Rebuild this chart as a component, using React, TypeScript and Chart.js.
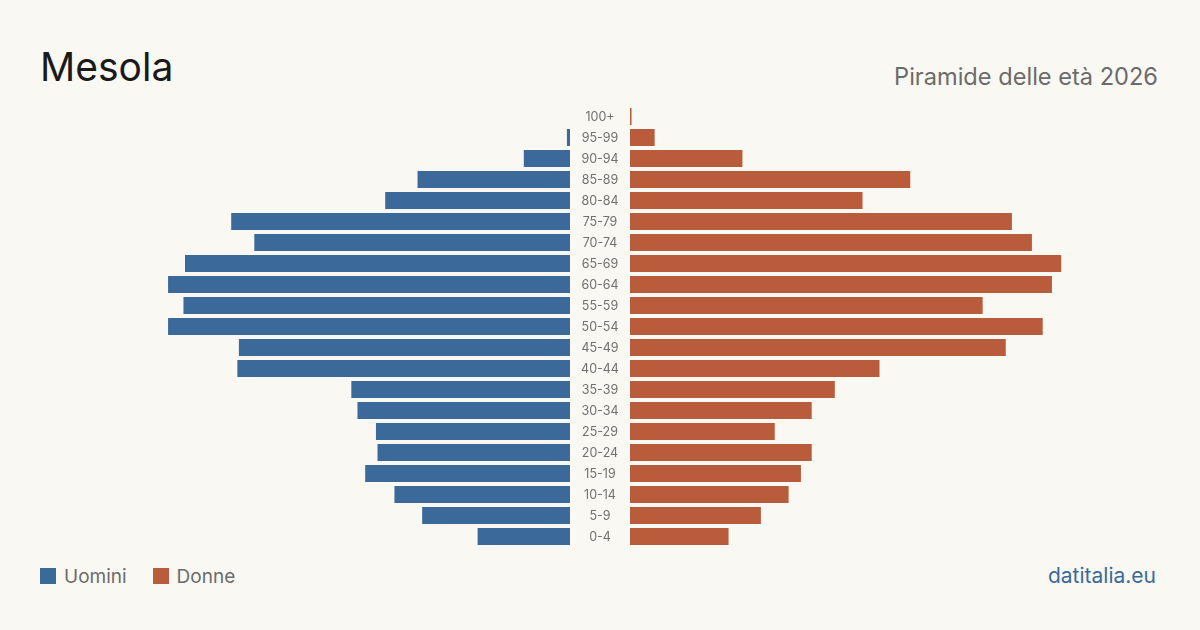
import React, { useEffect, useRef } from "react";
import { Chart, registerables } from "chart.js";

Chart.register(...registerables);

const ageGroups = ["100+", "95-99", "90-94", "85-89", "80-84", "75-79", "70-74", "65-69", "60-64", "55-59", "50-54", "45-49", "40-44", "35-39", "30-34", "25-29", "20-24", "15-19", "10-14", "5-9", "0-4"];
const men = [0, 2, 30, 99, 120, 220, 205, 250, 261, 251, 261, 215, 216, 142, 138, 126, 125, 133, 114, 96, 60];
const women = [1, 16, 73, 182, 151, 248, 261, 280, 274, 229, 268, 244, 162, 133, 118, 94, 118, 111, 103, 85, 64];
const axisMax = 300;

const BLUE = "#3b6a9a";
const ORANGE = "#b95c3b";
const BG = "#faf8f3";
const FONT = "Inter, 'Noto Sans', sans-serif";

const centerLabels = {
  id: "centerLabels",
  afterDraw(chart: any) {
    const { ctx, scales } = chart;
    const y = scales.y;
    ctx.save();
    ctx.fillStyle = "#707070";
    ctx.font = `12.5px ${FONT}`;
    ctx.textAlign = "center";
    ctx.textBaseline = "middle";
    ageGroups.forEach((lab, i) => {
      ctx.fillText(lab, 30, y.getPixelForValue(i) + 1);
    });
    ctx.restore();
  },
};

export default function App() {
  const leftRef = useRef<HTMLCanvasElement>(null);
  const rightRef = useRef<HTMLCanvasElement>(null);

  useEffect(() => {
    const baseOptions = {
      indexAxis: "y" as const,
      animation: false as const,
      responsive: false,
      maintainAspectRatio: false,
      plugins: { legend: { display: false }, tooltip: { enabled: false }, title: { display: false } },
    };
    const left = new Chart(leftRef.current!, {
      type: "bar",
      data: {
        labels: ageGroups,
        datasets: [{ label: "Uomini", data: men, backgroundColor: BLUE, barPercentage: 0.81, categoryPercentage: 1 }],
      },
      options: {
        ...baseOptions,
        layout: { padding: 0 },
        scales: {
          x: { display: false, reverse: true, min: 0, max: axisMax },
          y: { display: false },
        },
      },
    });
    const right = new Chart(rightRef.current!, {
      type: "bar",
      data: {
        labels: ageGroups,
        datasets: [{ label: "Donne", data: women, backgroundColor: ORANGE, barPercentage: 0.81, categoryPercentage: 1 }],
      },
      options: {
        ...baseOptions,
        layout: { padding: { left: 60, right: 0, top: 0, bottom: 0 } },
        scales: {
          x: { display: false, min: 0, max: axisMax },
          y: { display: false },
        },
      },
      plugins: [centerLabels],
    });
    return () => { left.destroy(); right.destroy(); };
  }, []);

  return (
    <div style={{ position: "fixed", left: 0, top: 0, width: 1200, height: 630, background: BG, fontFamily: FONT, overflow: "hidden" }}>
      <div style={{ position: "absolute", left: 40, top: 47, fontSize: 39, lineHeight: 1, color: "#1a1a1a" }}>Mesola</div>
      <div style={{ position: "absolute", right: 42, top: 64.5, fontSize: 23.6, lineHeight: 1, color: "#6b6b6b" }}>Piramide delle età 2026</div>
      <canvas ref={leftRef} width={462} height={441} style={{ position: "absolute", left: 108, top: 106, width: 462, height: 441 }} />
      <canvas ref={rightRef} width={522} height={441} style={{ position: "absolute", left: 570, top: 106, width: 522, height: 441 }} />
      <div style={{ position: "absolute", left: 40, top: 566.5, display: "flex", alignItems: "center", fontSize: 19, lineHeight: 1, color: "#6b6b6b" }}>
        <span style={{ display: "inline-block", width: 16, height: 16, background: BLUE, marginRight: 8 }} />
        <span>Uomini</span>
        <span style={{ display: "inline-block", width: 16, height: 16, background: ORANGE, marginLeft: 26, marginRight: 8 }} />
        <span>Donne</span>
      </div>
      <div style={{ position: "absolute", right: 44, top: 565, fontSize: 21, lineHeight: 1, color: BLUE }}>datitalia.eu</div>
    </div>
  );
}
